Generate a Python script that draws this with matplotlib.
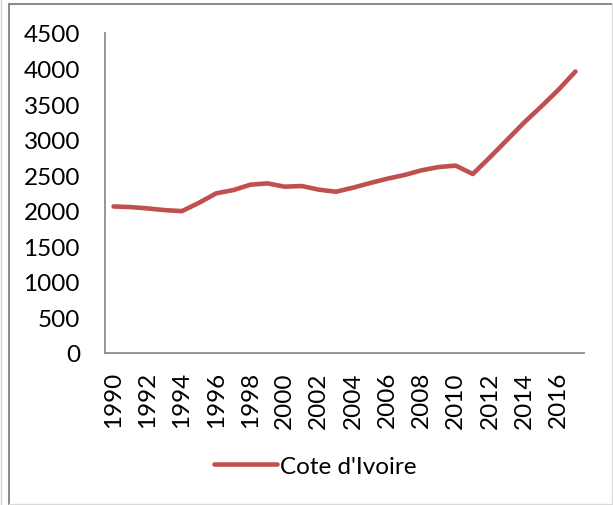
import matplotlib.pyplot as plt
from matplotlib.lines import Line2D

years = list(range(1990, 2018))
values = [2061, 2052, 2033, 2009, 1995, 2113, 2245, 2291, 2367, 2385,
          2339, 2348, 2297, 2268, 2325, 2390, 2451, 2503, 2569, 2615,
          2635, 2517, 2752, 2996, 3241, 3466, 3700, 3959]
series_name = "Cote d'Ivoire"
y_ticks = [0, 500, 1000, 1500, 2000, 2500, 3000, 3500, 4000, 4500]

plt.rcParams['font.family'] = ['Lato', 'DejaVu Sans']

fig = plt.figure(figsize=(6.13, 5.06), dpi=100)
ax = fig.add_axes([105 / 613, 1 - 354 / 506, 479 / 613, 320 / 506])

pos = list(range(len(years)))
ax.plot(pos, values, color='#C0504D', lw=3.3, solid_capstyle='round',
        label=series_name)

ax.set_xlim(-0.5, len(years) - 0.5)
ax.set_ylim(0, 4500)
ax.set_yticks(y_ticks)
ax.set_yticklabels([str(v) for v in y_ticks], fontsize=17.5)
ax.set_xticks(pos[::2])
ax.set_xticklabels([str(y) for y in years[::2]], rotation=90, fontsize=17.5)
ax.tick_params(axis='both', length=0)
ax.tick_params(axis='y', pad=18)
ax.tick_params(axis='x', pad=13)

for s in ['top', 'right']:
    ax.spines[s].set_visible(False)
for s in ['left', 'bottom']:
    ax.spines[s].set_color('#8C8C8C')
    ax.spines[s].set_linewidth(1.3)

leg = fig.legend(handles=[Line2D([0], [0], color='#C0504D', lw=3.3,
                                 solid_capstyle='round')],
                 labels=[series_name], loc='center',
                 bbox_to_anchor=(315 / 613, 1 - 467 / 506),
                 frameon=False, fontsize=17.5, handlelength=2.6,
                 handletextpad=0.1)

# chart border
fig.add_artist(Line2D([9 / 613, 9 / 613], [0, 1 - 4.5 / 506],
                      transform=fig.transFigure, color='#8C8C8C', lw=1.5))
fig.add_artist(Line2D([9 / 613, 611 / 613], [1 - 4.5 / 506, 1 - 4.5 / 506],
                      transform=fig.transFigure, color='#8C8C8C', lw=1.5))
fig.add_artist(Line2D([1.5 / 613, 1.5 / 613], [0, 1],
                      transform=fig.transFigure, color='#D0D0D0', lw=1))
fig.add_artist(Line2D([611.5 / 613, 611.5 / 613], [0, 1 - 4.5 / 506],
                      transform=fig.transFigure, color='#DADADA', lw=1))
fig.add_artist(Line2D([9 / 613, 612 / 613], [0.6 / 506, 0.6 / 506],
                      transform=fig.transFigure, color='#DADADA', lw=1))

fig.savefig('out.png', dpi=100)
